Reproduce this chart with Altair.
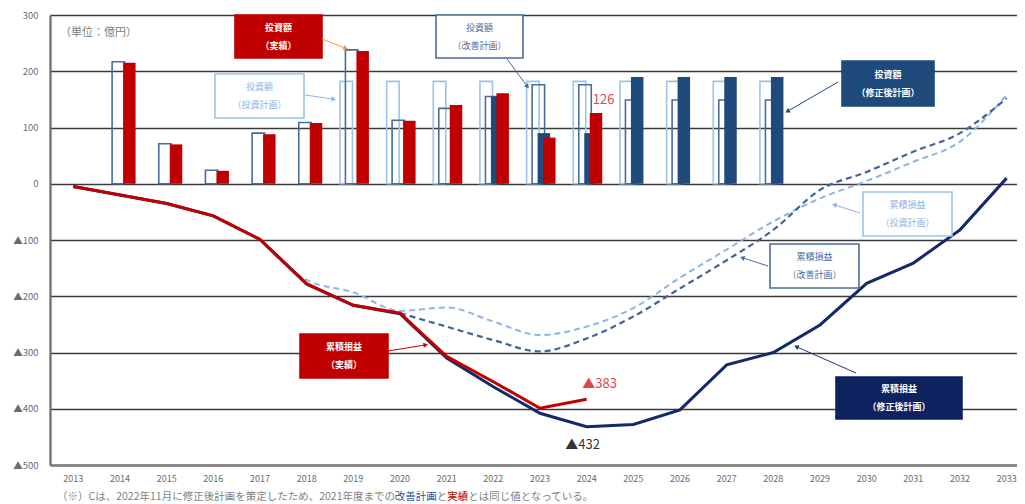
import math
import altair as alt
import pandas as pd

FONT = "Noto Sans CJK JP"
N = None
years = list(range(2013, 2034))

# 投資額 (bars)
inv_plan    = [N, N, N, N, N, N, 182, 182, 182, 182, 182, 182, 182, 182, 182, 182, N, N, N, N, N]
inv_improve = [N, 217, 71, 24, 90, 109, 238, 113, 134, 155, 176, 176, 149, 149, 149, 149, N, N, N, N, N]
inv_revised = [N, N, N, N, N, N, N, N, N, 155, 90, 90, 190, 190, 190, 190, N, N, N, N, N]
inv_actual  = [N, 215, 70, 23, 88, 108, 236, 112, 140, 161, 82, 126, N, N, N, N, N, N, N, N, N]

# 累積損益 (lines)
cum_plan    = [N, N, N, N, -99, -171, -193, -226, -220, -245, -269, -254, -221, -167, -117, -67, -26, 5, 39, 75, 158]
cum_improve = [N, N, N, N, N, N, N, -230, -254, -278, -298, -275, -236, -186, -136, -82, -11, 21, 57, 90, 152]
cum_revised = [-5, -20, -35, -57, -99, -178, -216, -231, -310, -361, -408, -432, -428, -402, -322, -300, -251, -177, -141, -82, 10]
cum_actual  = [-5, -20, -35, -57, -99, -178, -216, -230, -307, -352, -399, -383, N, N, N, N, N, N, N, N, N]

S_PLAN, S_IMP, S_REV, S_ACT = "投資計画", "改善計画", "修正後計画", "実績"
series_order = [S_PLAN, S_IMP, S_REV, S_ACT]
offset_domain = ["_p1", "_p2"] + series_order + ["_p3", "_p4"]

rows = []
for name, arr in [(S_PLAN, inv_plan), (S_IMP, inv_improve), (S_REV, inv_revised), (S_ACT, inv_actual)]:
    for y, v in zip(years, arr):
        if v is not None:
            rows.append({"year": str(y), "series": name, "value": v})
bars = pd.DataFrame(rows)

def line_df(arr):
    return pd.DataFrame([{"year": str(y), "value": v} for y, v in zip(years, arr) if v is not None])

X = alt.X("year:O", sort=[str(y) for y in years],
          scale=alt.Scale(domain=[str(y) for y in years], range=[0, 980], paddingInner=0, paddingOuter=0),
          axis=alt.Axis(title=None, labelAngle=0, ticks=False, labelFont=FONT, labelFontSize=9,
                        labelColor="#6b6b6b", labelPadding=9, domainColor="#7f7f7f", domainWidth=2.5))
Y = alt.Y("value:Q", scale=alt.Scale(domain=[-500, 300], nice=False),
          axis=alt.Axis(title=None, values=list(range(-500, 301, 100)), ticks=False, grid=True,
                        gridColor="#3a3a3a", gridWidth=1.6, domainColor="#6b6b6b", domainWidth=2.2,
                        labelFont=FONT, labelFontSize=9.5, labelColor="#6b6b6b", labelPadding=12,
                        labelExpr="datum.value < 0 ? '▲' + (-datum.value) : '' + datum.value"))
XOFF = alt.XOffset("series:N",
                   scale=alt.Scale(domain=offset_domain, paddingInner=0, paddingOuter=0.25, align=0.9))

outline_bars = alt.Chart(bars).transform_filter(
    alt.FieldOneOfPredicate(field="series", oneOf=[S_PLAN, S_IMP])
).mark_bar(filled=False, strokeWidth=1.6, width=12.5).encode(
    x=X, y=Y, xOffset=XOFF,
    stroke=alt.Stroke("series:N", scale=alt.Scale(domain=[S_PLAN, S_IMP], range=["#9DC3E6", "#4A6C9B"]), legend=None),
)
filled_bars = alt.Chart(bars).transform_filter(
    alt.FieldOneOfPredicate(field="series", oneOf=[S_REV, S_ACT])
).mark_bar(width=12.5).encode(
    x=X, y=Y, xOffset=XOFF,
    color=alt.Color("series:N", scale=alt.Scale(domain=[S_REV, S_ACT], range=["#1F4A7C", "#C00000"]), legend=None),
)

l_plan = alt.Chart(line_df(cum_plan)).mark_line(color="#8EB4E3", strokeWidth=2, strokeDash=[6, 4], interpolate="monotone").encode(x=X, y=Y)
l_imp = alt.Chart(line_df(cum_improve)).mark_line(color="#3E649A", strokeWidth=2.2, strokeDash=[6, 4], interpolate="monotone").encode(x=X, y=Y)
l_rev = alt.Chart(line_df(cum_revised)).mark_line(color="#14296A", strokeWidth=3).encode(x=X, y=Y)
l_act = alt.Chart(line_df(cum_actual)).mark_line(color="#C00000", strokeWidth=3).encode(x=X, y=Y)

lab_df = pd.DataFrame([
    {"year": "2024", "value": 126, "t": "126"},
    {"year": "2024", "value": -383, "t": "▲383"},
    {"year": "2024", "value": -432, "t": "▲432"},
])
lab126 = alt.Chart(lab_df).transform_filter("datum.t == '126'").mark_text(
    font=FONT, fontSize=13, color="#E04848", dx=17, dy=-13).encode(x=X, y=Y, text="t:N")
lab383 = alt.Chart(lab_df).transform_filter("datum.t == '▲383'").mark_text(
    font=FONT, fontSize=13, color="#E04848", dx=13, dy=-15).encode(x=X, y=Y, text="t:N")
lab432 = alt.Chart(lab_df).transform_filter("datum.t == '▲432'").mark_text(
    font=FONT, fontSize=13, color="#333333", dx=-4, dy=18).encode(x=X, y=Y, text="t:N")

# ---- annotations (pixel positions relative to plot origin) ----
OX, OY = 50, 15
one = pd.DataFrame({"k": [0]})
layers_anno = []

def box(x1, y1, x2, y2, lines, fill, stroke, tcolor, bold):
    r = alt.Chart(one).mark_rect(fill=fill, stroke=stroke, strokeWidth=1.6).encode(
        x=alt.value(x1 - OX), x2=alt.value(x2 - OX), y=alt.value(y1 - OY), y2=alt.value(y2 - OY))
    layers_anno.append(r)
    cy = (y1 + y2) / 2
    for i, s in enumerate(lines):
        t = alt.Chart(one).mark_text(text=s, color=tcolor, font=FONT, fontSize=9,
                                     fontWeight="bold" if bold else "normal",
                                     align="center", baseline="middle").encode(
            x=alt.value((x1 + x2) / 2 - OX), y=alt.value(cy + (i - 0.5) * 18 - OY))
        layers_anno.append(t)

def arrow(x1, y1, x2, y2, color):
    r = alt.Chart(one).mark_rule(color=color, strokeWidth=1).encode(
        x=alt.value(x1 - OX), x2=alt.value(x2 - OX), y=alt.value(y1 - OY), y2=alt.value(y2 - OY))
    ang = math.degrees(math.atan2(x2 - x1, -(y2 - y1))) % 360
    p = alt.Chart(one).mark_point(shape="triangle", filled=True, size=28, angle=ang, color=color, opacity=1).encode(
        x=alt.value(x2 - OX), y=alt.value(y2 - OY))
    layers_anno.extend([r, p])

box(235, 15, 322, 58, ["投資額", "（実績）"], "#C00000", "#C00000", "white", True)
arrow(322, 39, 345, 48, "#F79646")
box(215, 74, 304, 118, ["投資額", "（投資計画）"], "white", "#9DC3E6", "#8EB4E3", False)
arrow(305, 95, 333, 99, "#8EB4E3")
box(436, 15, 523, 58, ["投資額", "（改善計画）"], "white", "#4A6C9B", "#4A6C9B", False)
arrow(507, 59, 527, 86, "#4A6C9B")
box(842, 61, 934, 106, ["投資額", "（修正後計画）"], "#1F4A7C", "#1F4A7C", "white", True)
arrow(838, 82, 788, 111, "#1F4A7C")
box(863, 192, 952, 236, ["累積損益", "（投資計画）"], "white", "#9DC3E6", "#8EB4E3", False)
arrow(860, 213, 835, 205, "#8EB4E3")
box(770, 244, 859, 288, ["累積損益", "（改善計画）"], "white", "#4A6C9B", "#4A6C9B", False)
arrow(768, 266, 743, 258, "#4A6C9B")
box(300, 334, 388, 378, ["累積損益", "（実績）"], "#C00000", "#C00000", "white", True)
arrow(388, 351, 425, 345, "#C00000")
box(836, 377, 962, 419, ["累積損益", "（修正後計画）"], "#0E2260", "#0E2260", "white", True)
arrow(856, 373, 797, 347, "#1F3A70")

unit = alt.Chart(one).mark_text(text="（単位：億円）", font=FONT, fontSize=11, color="#808080",
                                align="left", baseline="middle").encode(x=alt.value(60 - OX), y=alt.value(33 - OY))
layers_anno.append(unit)

# footnote segments
FS = 10.5
segs = [("（※）Cは、2022年11月に修正後計画を策定したため、2021年度までの", "#7f7f7f"),
        ("改善計画", "#2F5597"), ("と", "#7f7f7f"), ("実績", "#C00000"),
        ("とは同じ値となっている。", "#7f7f7f")]
def text_w(s):
    w = 0
    for ch in s:
        w += FS * (0.56 if ord(ch) < 128 else 1.0)
    return w
cx = 57
for s, c in segs:
    layers_anno.append(alt.Chart(one).mark_text(text=s, font=FONT, fontSize=FS, color=c, align="left",
                                                baseline="middle").encode(x=alt.value(cx - OX), y=alt.value(497 - OY)))
    cx += text_w(s)

chart = alt.layer(outline_bars, filled_bars, l_plan, l_imp, l_rev, l_act, lab126, lab383, lab432,
                  *layers_anno).properties(
    width=967, height=450,
    autosize=alt.AutoSizeParams(type="none"),
    padding={"left": 42, "top": 7, "right": 0, "bottom": 39},
).configure_view(stroke=None).resolve_scale(stroke="independent", color="independent")

chart.save("out.html", embed_options={"renderer": "svg", "actions": False})
